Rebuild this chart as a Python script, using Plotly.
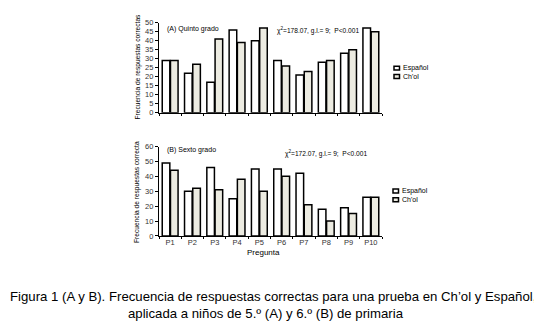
import plotly.graph_objects as go

preguntas = ["P1", "P2", "P3", "P4", "P5", "P6", "P7", "P8", "P9", "P10"]
quinto_espanol = [29, 22, 17, 46, 40, 29, 21, 28, 33, 47]
quinto_chol = [29, 27, 41, 39, 47, 26, 23, 29, 35, 45]
sexto_espanol = [49, 30, 46, 25, 45, 45, 42, 18, 19, 26]
sexto_chol = [44, 32, 31, 38, 30, 40, 21, 10, 15, 26]
series_names = ["Español", "Ch'ol"]

W, H = 542, 328
FONT = "Liberation Sans, Arial, sans-serif"
CHOL_COLOR = "#ecebe1"
COLORS = ["white", CHOL_COLOR]
LINE = dict(color="black", width=1.5)

fig = go.Figure()
for ax, data in (("", (quinto_espanol, quinto_chol)), ("2", (sexto_espanol, sexto_chol))):
    for name, vals, col in zip(series_names, data, COLORS):
        fig.add_trace(go.Bar(x=preguntas, y=vals, name=name, marker=dict(color=col, line=LINE),
                             xaxis="x" + ax, yaxis="y" + ax, showlegend=False))

xdom = [151 / W, 374 / W]
ytop = [1 - 103.7 / H, 1 - 11 / H]
ybot = [1 - 230.3 / H, 1 - 138.3 / H]

tickfont = dict(family=FONT, size=7.5, color="#333")
xax = dict(domain=xdom, showline=True, linecolor="black", linewidth=1.2, ticks="outside",
           tickson="boundaries", ticklen=2, tickcolor="black", tickfont=tickfont, tickangle=0,
           ticklabelstandoff=-1)
yax = dict(showline=True, linecolor="black", linewidth=1.2, ticks="outside", ticklen=3,
           tickcolor="black", showgrid=False, zeroline=False, tickfont=tickfont)

fig.update_layout(
    width=W, height=H,
    margin=dict(l=0, r=0, t=0, b=0),
    paper_bgcolor="white", plot_bgcolor="white",
    barmode="group", bargap=0.26, bargroupgap=0.08,
    font=dict(family=FONT, color="black"),
    xaxis=dict(**xax, anchor="y", showticklabels=False),
    yaxis=dict(**yax, domain=ytop, range=[0, 50], dtick=5, anchor="x"),
    xaxis2=dict(**xax, anchor="y2", showticklabels=True),
    yaxis2=dict(**yax, domain=ybot, range=[0, 60], dtick=10, anchor="x2"),
    showlegend=False,
)

SMALL = 6.6
ann = [
    dict(text="(A) Quinto grado", x=157 / W, y=1 - 17 / H, xanchor="left", yanchor="middle", font=dict(size=7)),
    dict(text="χ<sup>2</sup>=178.07, g.l.= 9;  P<0.001", x=310 / W, y=1 - 19 / H, xanchor="center", yanchor="middle", font=dict(size=SMALL)),
    dict(text="(B) Sexto grado", x=157 / W, y=1 - 142 / H, xanchor="left", yanchor="middle", font=dict(size=7)),
    dict(text="χ<sup>2</sup>=172.07, g.l.= 9;  P<0.001", x=318 / W, y=1 - 145 / H, xanchor="center", yanchor="middle", font=dict(size=SMALL)),
    dict(text="Frecuencia de respuestas correctas", x=130 / W, y=1 - 56 / H, textangle=-90, xanchor="center", yanchor="middle", font=dict(size=SMALL)),
    dict(text="Frecuencia de respuestas correcta", x=129 / W, y=1 - 185 / H, textangle=-90, xanchor="center", yanchor="middle", font=dict(size=SMALL)),
    dict(text="Pregunta", x=255 / W, y=1 - 247.5 / H, xanchor="center", yanchor="middle", font=dict(size=8)),
    dict(text="Figura 1 (A y B). Frecuencia de respuestas correctas para una prueba en Ch’ol y Español,", x=0, y=1 - 293 / H,
         xanchor="left", yanchor="middle", font=dict(size=13.2)),
    dict(text="aplicada a niños de 5.º (A) y 6.º (B) de primaria", x=118 / W, y=1 - 310 / H,
         xanchor="left", yanchor="middle", font=dict(size=13.2)),
]

shapes = []
legend_rows = [((386, 57.7), (386, 66.3)), ((385, 184), (385, 193))]
for rows in legend_rows:
    for (lx, ly), name, col in zip(rows, series_names, COLORS):
        shapes.append(dict(type="rect", xref="paper", yref="paper",
                           x0=lx / W, x1=(lx + 5.5) / W, y0=1 - (ly - 2) / H, y1=1 - (ly + 2) / H,
                           fillcolor=col, line=dict(color="black", width=1.5)))
        ann.append(dict(text=name, x=(lx + 7) / W, y=1 - ly / H, xanchor="left", yanchor="middle",
                        font=dict(size=7)))

for a in ann:
    a.update(xref="paper", yref="paper", showarrow=False)
    f = dict(family=FONT, color="black")
    f.update(a["font"])
    a["font"] = f
fig.update_layout(annotations=ann, shapes=shapes)

fig.write_html("out.html")
